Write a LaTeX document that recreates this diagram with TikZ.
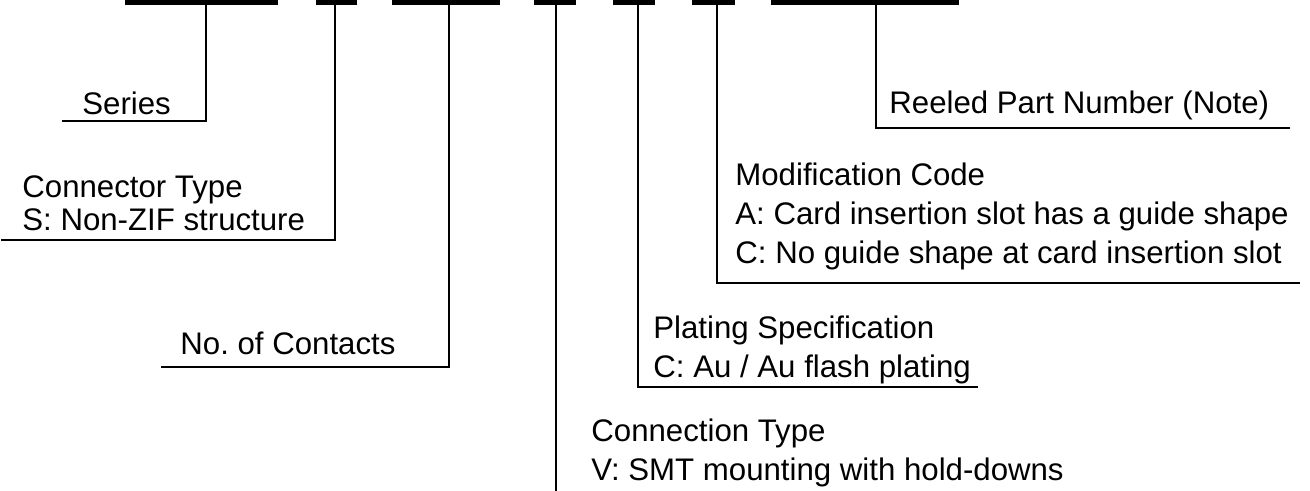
\documentclass[tikz,border=0pt]{standalone}
\usepackage{fontspec}
\setmainfont{Liberation Sans}
\frenchspacing

\begin{document}
\begin{tikzpicture}[x=0.5pt,y=-0.5pt,
  field/.style={line width=2.7pt},
  leader/.style={line width=1pt},
  lbl/.style={anchor=base west,inner sep=0pt,align=left,
    font=\fontsize{15.6}{19.5}\selectfont}]
\useasboundingbox (0,0) rectangle (1310,491);
% fields of the part number, with the x where each leader drops
\foreach \a/\b/\x/\n in {125/278/206/1,316/357/335/2,392/500/449/3,534/576/556/4,
    613/655/638/5,692/735/717/6,771/959/876/7}{
  \draw[field] (\a,2.7) -- (\b,2.7);
  \coordinate (f\n) at (\x,2.7);
}
% labels (multi-line ones sit on the baseline of their last line)
\node[lbl] (series) at (82,115) {Series};
\node[lbl] (ctype) at (22,231) {Connector Type\\[-3pt]S: Non-ZIF structure};
\node[lbl] (contacts) at (180,355) {No. of Contacts};
\node[lbl] (conn) at (591,480) {Connection Type\\V: SMT mounting with hold-downs};
\node[lbl] (plating) at (653,377) {Plating Specification\\C: Au / Au flash plating};
\node[lbl] (modif) at (735,264) {Modification Code\\A: Card insertion slot has a guide shape\\C: No guide shape at card insertion slot};
\node[lbl] (reeled) at (889,114) {Reeled Part Number (Note)};
% free ends of the leaders
\coordinate (e1) at (62,121);
\coordinate (e2) at (1,240);
\coordinate (e3) at (161,367);
\coordinate (e4) at (556,491);
\coordinate (e5) at (978,387);
\coordinate (e6) at (1300,283);
\coordinate (e7) at (1290,128);
% leaders
\draw[leader] (f1) |- (e1);
\draw[leader] (f2) |- (e2);
\draw[leader] (f3) |- (e3);
\draw[leader] (f4) -- (e4);
\draw[leader] (f5) |- (e5);
\draw[leader] (f6) |- (e6);
\draw[leader] (f7) |- (e7);
\end{tikzpicture}
\end{document}
